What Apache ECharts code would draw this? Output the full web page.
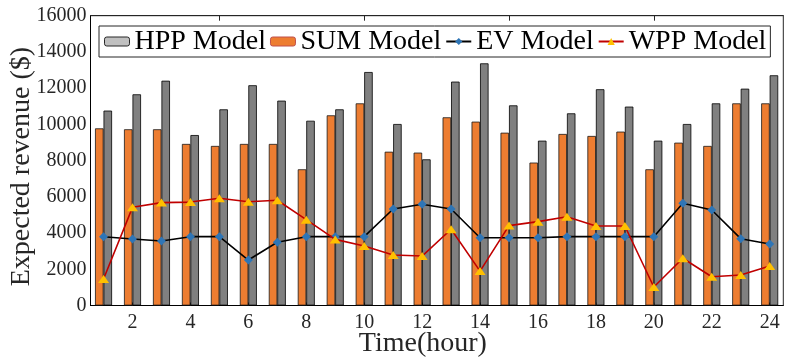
<!DOCTYPE html>
<html>
<head>
<meta charset="utf-8">
<script src="https://cdn.jsdelivr.net/npm/echarts@6/dist/echarts.min.js"></script>
<style>html,body{margin:0;padding:0;background:#fff;}#c{width:787px;height:361px;}</style>
</head>
<body>
<div id="c"></div>
<script>
var hours = [1,2,3,4,5,6,7,8,9,10,11,12,13,14,15,16,17,18,19,20,21,22,23,24];
var hppModel = [10760,11660,12410,9410,10830,12160,11310,10200,10830,12890,10020,8070,12360,13370,11050,9100,10610,11940,10980,9100,10020,11160,11970,12710];
var sumModel = [9780,9730,9730,8920,8810,8920,8920,7520,10500,11160,8490,8440,10390,10150,9540,7890,9470,9360,9600,7520,8990,8810,11160,11160];
var evModel = [3800,3670,3560,3800,3800,2510,3490,3800,3800,3800,5330,5590,5330,3740,3740,3740,3800,3800,3800,3800,5640,5270,3690,3400];
var wppModel = [1460,5420,5680,5710,5920,5730,5810,4740,3650,3290,2790,2730,4210,1900,4410,4630,4900,4390,4390,1020,2610,1590,1680,2180];
var xTickLabels = [2,4,6,8,10,12,14,16,18,20,22,24];
var topTicks = [5,10,15,20];

function pairs(v){ return hours.map(function(h,i){ return [h, v[i]]; }); }

var font = 'Liberation Serif';
var labelRich = {t: {fontFamily: font, fontSize: 20, color: '#262626'}};
var chart = echarts.init(document.getElementById('c'), null, {renderer:'canvas'});
chart.setOption({
  animation: false,
  backgroundColor: '#fff',
  textStyle: {fontFamily: font},
  grid: {left: 90.5, right: 3.7, top: 15.7, bottom: 55.5, show: true, borderColor: '#262626', borderWidth: 1,
         containLabel: false, outerBoundsMode: 'none'},
  legend: {
    left: 99, top: 26,
    padding: [1, 4, 1, 5],
    itemGap: 4,
    itemWidth: 25, itemHeight: 9,
    borderColor: '#262626', borderWidth: 1,
    backgroundColor: '#fff',
    textStyle: {fontFamily: font, fontSize: 28, color: '#000', lineHeight: 29},
    data: [
      {name: 'HPP Model', itemStyle: {color: '#c0c0c0', borderColor: '#262626', borderWidth: 1}},
      {name: 'SUM Model', itemStyle: {color: '#ED7D31', borderColor: '#c0504d', borderWidth: 1}},
      {name: 'EV Model'},
      {name: 'WPP Model'}
    ]
  },
  xAxis: [{
    type: 'value', min: 0.55, max: 24.47,
    position: 'bottom',
    name: 'Time(hour)', nameLocation: 'middle', nameGap: 24, nameMoveOverlap: false,
    nameTextStyle: {fontFamily: font, fontSize: 28, color: '#262626', padding: [0, 28, 0, 0]},
    axisLine: {show: true, lineStyle: {color: '#000', width: 1}},
    axisTick: {show: true, inside: true, length: 3, customValues: xTickLabels, lineStyle: {color: '#262626'}},
    axisLabel: {customValues: xTickLabels, fontFamily: font, fontSize: 20, color: '#262626', margin: 7,
      rich: labelRich, formatter: function(v){ return '{t|' + v + '}'; }},
    splitLine: {show: false}
  }, {
    type: 'value', min: 0.55, max: 24.47,
    position: 'top',
    axisLine: {show: true, lineStyle: {color: '#262626', width: 1}},
    axisTick: {show: true, inside: true, length: 5, customValues: topTicks, lineStyle: {color: '#262626'}},
    axisLabel: {show: false},
    splitLine: {show: false}
  }],
  yAxis: {
    type: 'value', min: 0, max: 16000, interval: 2000,
    name: 'Expected revenue ($)', nameLocation: 'middle', nameGap: 55, nameRotate: 90, nameMoveOverlap: false,
    nameTextStyle: {fontFamily: font, fontSize: 28, color: '#262626', padding: [0, 12, 0, 0]},
    axisLine: {show: true, lineStyle: {color: '#000', width: 1}},
    axisTick: {show: false},
    axisLabel: {fontFamily: font, fontSize: 20, color: '#262626', margin: 4,
      rich: labelRich, formatter: function(v){ return '{t|' + v + '}'; }},
    splitLine: {show: false}
  },
  series: [
    {name: 'SUM Model', type: 'bar', xAxisIndex: 0, data: pairs(sumModel), barWidth: 8.5, barGap: '0%',
     itemStyle: {color: '#ED7D31', borderColor: '#1a1a1a', borderWidth: 0.8}, z: 2},
    {name: 'HPP Model', type: 'bar', xAxisIndex: 0, data: pairs(hppModel), barWidth: 8.5, barGap: '0%',
     itemStyle: {color: '#808080', borderColor: '#000', borderWidth: 0.8}, z: 2},
    {name: 'EV Model', type: 'line', xAxisIndex: 0, data: pairs(evModel),
     symbol: 'diamond', symbolSize: [9, 9], showAllSymbol: true,
     lineStyle: {color: '#000', width: 1.6}, itemStyle: {color: '#2E75B6', borderWidth: 0}, z: 4},
    {name: 'WPP Model', type: 'line', xAxisIndex: 0, data: pairs(wppModel),
     symbol: 'triangle', symbolSize: [11, 8], showAllSymbol: true,
     lineStyle: {color: '#C00000', width: 1.6}, itemStyle: {color: '#FFC000', borderWidth: 0}, z: 5}
  ]
});
</script>
</body>
</html>
